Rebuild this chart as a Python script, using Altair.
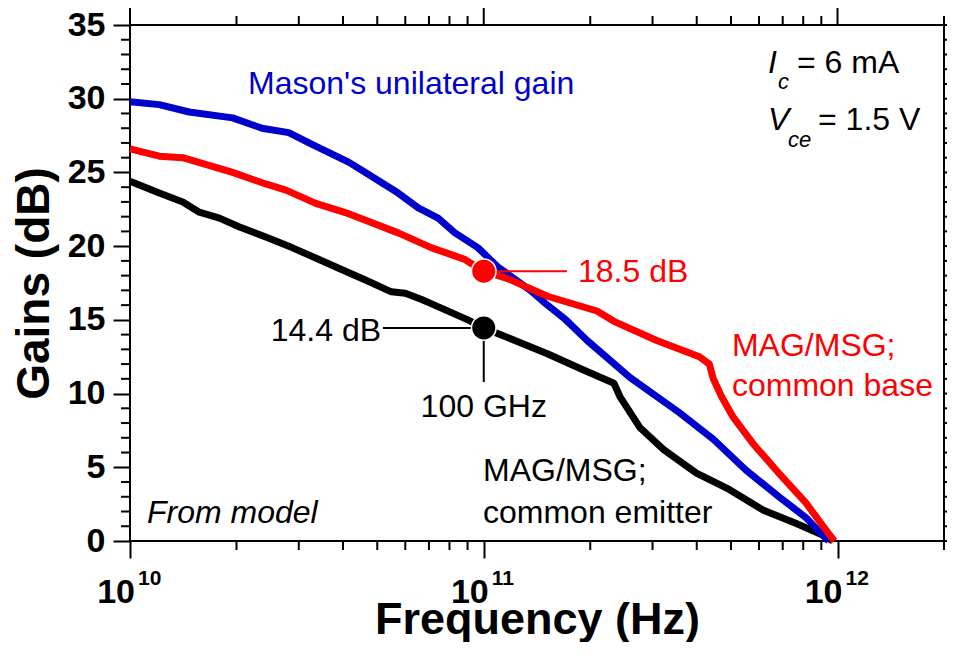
import altair as alt
import pandas as pd

# ---------------- data ----------------
mason_freq = [1.0e10, 1.21e10, 1.47e10, 1.95e10, 2.36e10, 2.81e10, 3.27e10, 4.15e10,
              4.63e10, 5.73e10, 6.53e10, 7.43e10, 8.29e10, 9.62e10, 1.095e11, 1.355e11,
              1.513e11, 1.689e11, 1.96e11, 2.588e11, 3.576e11, 4.456e11, 5.515e11,
              6.828e11, 8.131e11, 9.076e11, 9.435e11]
mason_gain = [29.8, 29.6, 29.1, 28.7, 28.0, 27.7, 26.9, 25.7, 25.0, 23.6, 22.6, 21.9,
              20.9, 19.9, 18.6, 17.0, 16.0, 15.1, 13.6, 11.1, 8.7, 6.9, 4.8, 3.0, 1.6,
              0.4, 0.0]

cb_freq = [1.0e10, 1.21e10, 1.41e10, 1.95e10, 2.43e10, 2.76e10, 3.35e10, 4.15e10,
           5.73e10, 7.10e10, 8.84e10, 1.0e11, 1.168e11, 1.513e11, 2.09e11, 2.333e11,
           3.083e11, 4.07e11, 4.342e11, 4.456e11, 4.70e11, 5.071e11, 5.771e11,
           6.828e11, 8.131e11, 9.435e11, 9.8e11]
cb_gain = [26.6, 26.1, 26.0, 25.0, 24.2, 23.8, 22.9, 22.2, 20.9, 19.9, 19.1, 18.3,
           17.8, 16.6, 15.6, 14.9, 13.6, 12.5, 12.0, 11.0, 9.8, 8.4, 6.6, 4.6, 2.6,
           0.5, 0.0]

ce_freq = [1.0e10, 1.21e10, 1.41e10, 1.57e10, 1.79e10, 2.04e10, 2.43e10, 2.87e10,
           3.35e10, 3.89e10, 4.63e10, 5.48e10, 6.0e10, 6.65e10, 7.1e10, 9.02e10,
           1.0e11, 1.168e11, 1.513e11, 1.873e11, 2.333e11, 2.426e11, 2.761e11,
           3.225e11, 3.992e11, 4.941e11, 6.156e11, 7.621e11, 9.076e11, 9.7e11]
ce_gain = [24.4, 23.6, 23.0, 22.3, 21.9, 21.3, 20.6, 19.9, 19.2, 18.5, 17.7, 16.9,
           16.8, 16.4, 16.1, 15.0, 14.45, 13.8, 12.7, 11.7, 10.7, 9.8, 7.7, 6.2, 4.6,
           3.5, 2.1, 1.2, 0.4, 0.0]

marker_freq = [1.0e11, 1.0e11]
marker_gain = [18.3, 14.45]

y_major = [0, 5, 10, 15, 20, 25, 30, 35]
y_minor = [v for v in range(0, 36) if v % 5 != 0]
x_major = [1e10, 1e11, 1e12]
x_minor = [m * 10.0 ** e for e in (10, 11) for m in range(2, 10)] + [2e12]
x_major_exp = ["10", "11", "12"]

# ---------------- styling ----------------
FONT = "Liberation Sans, Arial, sans-serif"
W, H = 814, 516
BLUE, RED, BLACK = "#0000CC", "#FF0000", "#000000"
TXT = 32
xscale = alt.Scale(type="log", domain=[1e10, 2e12], nice=False)
yscale = alt.Scale(domain=[0, 35], nice=False, zero=False)


def X(**kw):
    return alt.X("f:Q", scale=xscale, **kw)


def Y(**kw):
    return alt.Y("g:Q", scale=yscale, **kw)


def line(freq, gain, color):
    df = pd.DataFrame({"f": freq, "g": gain})
    return alt.Chart(df).mark_line(color=color, strokeWidth=7, strokeJoin="round").encode(
        x=X(), y=Y())


def label(text, f, g, color=BLACK, size=TXT, align="left", style="normal",
          weight="normal", baseline="middle"):
    df = pd.DataFrame({"f": [f], "g": [g], "t": [text]})
    return alt.Chart(df).mark_text(
        align=align, baseline=baseline, font=FONT, fontSize=size, color=color,
        fontStyle=style, fontWeight=weight).encode(
        x=X(), y=Y(), text="t:N")


def seg(f1, g1, f2, g2, color):
    df = pd.DataFrame({"f": [f1], "g": [g1], "f2": [f2], "g2": [g2]})
    return alt.Chart(df).mark_rule(color=color, strokeWidth=2).encode(
        x=X(), y=Y(), x2="f2:Q", y2="g2:Q")


# base layer carrying the axes
base_df = pd.DataFrame({"f": [1e10], "g": [0.0]})
base = alt.Chart(base_df).mark_point(opacity=0).encode(
    x=X(axis=alt.Axis(values=x_major, labels=False, tickSize=17, tickWidth=2,
                      tickColor=BLACK, domain=False, grid=False,
                      title="Frequency (Hz)", titleFont=FONT, titleFontSize=45,
                      titleFontWeight="bold", titleColor=BLACK,
                      titleX=W / 2, titleY=92, titleAlign="center",
                      titleBaseline="alphabetic")),
    y=Y(axis=alt.Axis(values=y_major, tickSize=17, tickWidth=2, tickColor=BLACK,
                      domain=False, grid=False, labelFont=FONT, labelFontSize=34,
                      labelFontWeight="bold", labelColor=BLACK, labelPadding=8,
                      title="Gains (dB)", titleFont=FONT, titleFontSize=46,
                      titleFontWeight="bold", titleColor=BLACK, titleAngle=270,
                      titleX=-96, titleY=H / 2, titleAlign="center",
                      titleBaseline="middle")),
)

# tick marks on the other sides / minor ticks
ymin_df = pd.DataFrame({"g": y_minor})
ymaj_df = pd.DataFrame({"g": y_major})
xmin_df = pd.DataFrame({"f": x_minor})
xmaj_df = pd.DataFrame({"f": x_major})


def yticks(df, x1, x2):
    return alt.Chart(df).mark_rule(color=BLACK, strokeWidth=2).encode(
        y=Y(), x=alt.value(x1), x2=alt.value(x2))


def xticks(df, y1, y2):
    return alt.Chart(df).mark_rule(color=BLACK, strokeWidth=2).encode(
        x=X(), y=alt.value(y1), y2=alt.value(y2))


ticks = [
    yticks(ymin_df, -9, 0), yticks(ymaj_df, W, W + 17), yticks(ymin_df, W, W + 9),
    xticks(xmin_df, H, H + 9), xticks(xmaj_df, -17, 0), xticks(xmin_df, -9, 0),
]

# x tick labels 10^n
xl_df = pd.DataFrame({"f": x_major, "b": ["10"] * 3, "e": x_major_exp})
xlab_base = alt.Chart(xl_df).mark_text(
    align="right", baseline="alphabetic", font=FONT, fontSize=34, fontWeight="bold",
    color=BLACK, dx=5).encode(x=X(), y=alt.value(578), text="b:N")
xlab_exp = alt.Chart(xl_df).mark_text(
    align="left", baseline="alphabetic", font=FONT, fontSize=21, fontWeight="bold",
    color=BLACK, dx=8).encode(x=X(), y=alt.value(560), text="e:N")

# markers
mk_df = pd.DataFrame({"f": marker_freq, "g": marker_gain, "c": [RED, BLACK]})
markers = alt.Chart(mk_df).mark_point(
    filled=True, shape="circle", size=600, stroke="white", strokeWidth=1.5,
    opacity=1).encode(x=X(), y=Y(), fill=alt.Fill("c:N", scale=None))

layers = [base] + ticks + [
    line(ce_freq, ce_gain, BLACK),
    line(mason_freq, mason_gain, BLUE),
    line(cb_freq, cb_gain, RED),
    seg(1.0e11, 18.3, 1.719e11, 18.3, RED),
    seg(5.19e10, 14.45, 1.0e11, 14.45, BLACK),
    seg(1.0e11, 14.45, 1.0e11, 10.78, BLACK),
    markers,
    xlab_base, xlab_exp,
    label("Mason's unilateral gain", 2.156e10, 31.0, color=BLUE),
    label("I", 6.36e11, 32.4, style="italic"),
    label("c", 6.79e11, 31.1, size=22, style="italic"),
    label("= 6 mA", 7.68e11, 32.4),
    label("V", 6.36e11, 28.55, style="italic"),
    label("ce", 7.25e11, 27.23, size=22, style="italic"),
    label("= 1.5 V", 8.81e11, 28.55),
    label("18.5 dB", 1.847e11, 18.25, color=RED),
    label("14.4 dB", 5.124e10, 14.24, align="right"),
    label("100 GHz", 1.0e11, 9.09, align="center"),
    label("MAG/MSG;", 5.03e11, 13.23, color=RED),
    label("common base", 5.03e11, 10.48, color=RED),
    label("MAG/MSG;", 9.95e10, 4.78),
    label("common emitter", 9.95e10, 1.9),
    label("From model", 1.117e10, 1.87, style="italic"),
]

chart = alt.layer(*layers).properties(
    width=W, height=H,
    autosize=alt.AutoSizeParams(type="none"),
    padding={"left": 122, "top": 17, "right": 3, "bottom": 101},
).configure_view(stroke=BLACK, strokeWidth=2)

chart.save("out.html", embed_options={"renderer": "svg", "actions": False})
